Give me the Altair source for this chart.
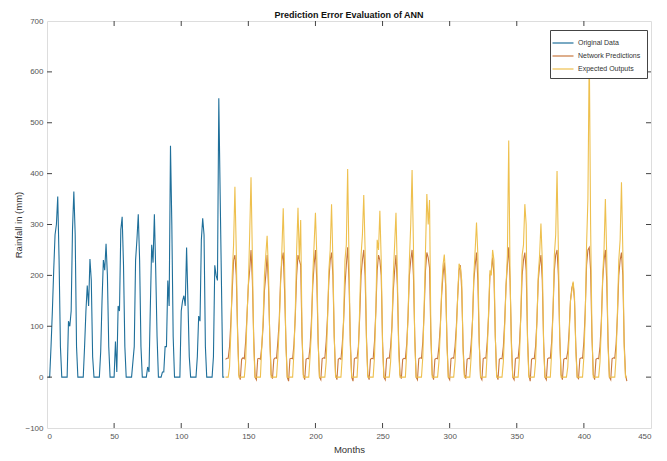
import altair as alt
import pandas as pd

# ---------------- data ----------------
# Original Data: months 1..132 (12 values per year, Jan..Dec)
original_data = [
    0, 0, 60, 130, 210, 280, 300, 355, 230, 60, 0, 0,
    0, 0, 0, 110, 100, 130, 290, 365, 280, 60, 0, 0,
    0, 0, 0, 60, 130, 180, 140, 232, 190, 40, 0, 0,
    0, 0, 0, 50, 150, 230, 210, 262, 200, 60, 0, 0,
    0, 0, 70, 10, 140, 130, 290, 315, 220, 60, 0, 0,
    0, 0, 0, 30, 60, 230, 270, 320, 230, 60, 0, 0,
    0, 0, 20, 10, 140, 260, 225, 320, 210, 80, 0, 0,
    0, 10, 10, 60, 60, 190, 140, 455, 300, 80, 0, 0,
    0, 0, 0, 130, 150, 160, 140, 255, 150, 40, 0, 0,
    0, 0, 0, 40, 120, 110, 270, 312, 280, 60, 0, 0,
    0, 0, 0, 40, 220, 200, 190, 548, 360, 180, 0, 0,
]

# Expected Outputs: months 133..432
expected_outputs = [
    0, 0, 0, 20, 90, 200, 260, 374, 250, 80, 0, 0,
    0, 0, 0, 30, 120, 180, 280, 393, 240, 60, 0, 0,
    0, 0, 0, 60, 110, 200, 240, 278, 210, 70, 0, 0,
    0, 0, 0, 40, 100, 180, 250, 332, 220, 60, 0, 0,
    0, 0, 0, 50, 130, 250, 333, 230, 309, 90, 0, 0,
    0, 0, 0, 40, 90, 200, 260, 323, 240, 70, 0, 0,
    0, 0, 0, 30, 110, 210, 250, 340, 230, 80, 0, 0,
    0, 0, 0, 40, 120, 230, 260, 409, 230, 60, 0, 0,
    0, 0, 0, 50, 140, 240, 280, 358, 250, 70, 0, 0,
    0, 0, 0, 40, 130, 270, 250, 327, 230, 60, 0, 0,
    0, 0, 0, 30, 100, 200, 260, 323, 210, 50, 0, 0,
    0, 0, 0, 50, 120, 230, 300, 407, 260, 70, 0, 0,
    0, 0, 0, 40, 140, 250, 360, 300, 348, 90, 0, 0,
    0, 0, 0, 30, 90, 170, 220, 241, 200, 60, 0, 0,
    0, 0, 0, 30, 90, 160, 223, 215, 190, 50, 0, 0,
    0, 0, 0, 40, 110, 200, 250, 304, 240, 70, 0, 0,
    0, 0, 0, 50, 130, 210, 200, 250, 230, 80, 0, 0,
    0, 0, 0, 30, 100, 180, 240, 465, 200, 60, 0, 0,
    0, 0, 0, 40, 120, 240, 260, 340, 300, 70, 0, 0,
    0, 0, 0, 30, 110, 200, 240, 302, 230, 60, 0, 0,
    0, 0, 0, 50, 130, 240, 280, 405, 250, 80, 0, 0,
    0, 0, 0, 20, 80, 150, 170, 188, 160, 50, 0, 0,
    0, 0, 0, 40, 120, 260, 350, 645, 300, 90, 0, 0,
    0, 0, 0, 30, 100, 200, 250, 350, 240, 60, 0, 0,
    0, 0, 0, 40, 130, 230, 270, 383, 250, 60, 0, 0,
]

# Network Predictions: months 133..432
network_predictions = [
    35, 37, 37, 60, 110, 170, 230, 240, 200, 90, 5, -5,
    35, 38, 36, 70, 120, 180, 210, 250, 190, 80, 0, -5,
    36, 37, 35, 60, 100, 170, 200, 240, 180, 80, 5, -3,
    35, 38, 37, 70, 110, 190, 230, 245, 170, 70, 0, -8,
    36, 37, 36, 65, 120, 200, 240, 230, 220, 80, 5, -5,
    35, 37, 36, 60, 110, 180, 220, 250, 190, 70, 0, -5,
    36, 38, 37, 70, 120, 190, 230, 245, 200, 80, 5, -5,
    35, 37, 35, 65, 110, 180, 220, 255, 190, 70, 0, -8,
    36, 38, 37, 60, 120, 200, 230, 250, 200, 80, 5, -5,
    35, 37, 36, 70, 130, 210, 240, 230, 200, 70, 0, -5,
    36, 38, 37, 60, 100, 170, 210, 240, 180, 70, 5, -3,
    35, 37, 36, 65, 120, 200, 230, 250, 200, 80, 0, -5,
    36, 38, 37, 70, 130, 210, 245, 235, 215, 80, 5, -5,
    35, 37, 36, 60, 100, 160, 200, 225, 180, 70, 0, -5,
    36, 38, 37, 60, 100, 160, 210, 220, 170, 60, 5, -3,
    35, 37, 36, 65, 110, 190, 220, 245, 190, 70, 0, -5,
    36, 38, 37, 70, 120, 200, 210, 235, 200, 80, 5, -5,
    35, 37, 36, 60, 110, 180, 220, 255, 190, 70, 0, -5,
    36, 38, 37, 65, 120, 200, 230, 245, 210, 80, 5, -8,
    35, 37, 36, 60, 110, 190, 220, 240, 190, 70, 0, -5,
    36, 38, 37, 70, 130, 210, 240, 250, 200, 80, 5, -5,
    35, 37, 36, 50, 90, 150, 175, 185, 150, 60, 0, -3,
    36, 38, 37, 70, 130, 220, 250, 255, 210, 80, 5, -5,
    35, 37, 36, 60, 110, 190, 230, 250, 190, 70, 0, -5,
    36, 38, 37, 65, 120, 200, 230, 245, 200, 70, 5, -8,
]

series_names = ["Original Data", "Network Predictions", "Expected Outputs"]
series_colors = ["#1f6f9a", "#c8783f", "#eec04e"]
x_ticks = [0, 50, 100, 150, 200, 250, 300, 350, 400, 450]
y_ticks = [-100, 0, 100, 200, 300, 400, 500, 600, 700]

W, H = 604, 407
FONT = "Liberation Sans"

df_orig = pd.DataFrame({"month": list(range(1, 1 + len(original_data))),
                        "value": original_data, "series": series_names[0]})
start = len(original_data) + 1
df_pred = pd.DataFrame({"month": list(range(start, start + len(network_predictions))),
                        "value": network_predictions, "series": series_names[1]})
df_exp = pd.DataFrame({"month": list(range(start, start + len(expected_outputs))),
                       "value": expected_outputs, "series": series_names[2]})

xscale = alt.Scale(domain=[x_ticks[0], x_ticks[-1]], nice=False, zero=False)
yscale = alt.Scale(domain=[y_ticks[0], y_ticks[-1]], nice=False, zero=False)
cscale = alt.Scale(domain=series_names, range=series_colors)

x_axis = alt.Axis(values=x_ticks, tickSize=0, grid=False, domain=False,
                  labelFontSize=8, labelColor="#555", labelFont=FONT, labelPadding=4,
                  title="Months", titleFontSize=9.5, titleFont=FONT,
                  titleFontWeight="normal", titleColor="#333", titlePadding=4)
y_axis = alt.Axis(values=y_ticks, tickSize=0, grid=False, domain=False,
                  labelFontSize=8, labelColor="#555", labelFont=FONT, labelPadding=4,
                  title="Rainfall in (mm)", titleFontSize=9.5, titleFont=FONT,
                  titleFontWeight="normal", titleColor="#333", titlePadding=1)

legend = alt.Legend(
    title=None, orient="none", legendX=503, legendY=9,
    direction="vertical",
    symbolType="M-1.75,0L1.75,0", symbolSize=144, symbolStrokeWidth=1.2,
    labelFontSize=7, labelFont=FONT, labelColor="#333", labelOffset=8,
    rowPadding=3, padding=6,
    strokeColor="#444", fillColor="white",
)


def line_layer(df):
    return alt.Chart(df).mark_line(strokeWidth=1.1).encode(
        x=alt.X("month:Q", scale=xscale, axis=x_axis),
        y=alt.Y("value:Q", scale=yscale, axis=y_axis),
        color=alt.Color("series:N", scale=cscale, sort=series_names, legend=legend),
    )


# inward tick marks on all four sides (positions from the tick lists via scales)
xt = pd.DataFrame({"t": x_ticks[1:-1]})
yt = pd.DataFrame({"t": y_ticks[1:-1]})
tick_style = dict(color="#444", strokeWidth=1)
ticks_bottom = alt.Chart(xt).mark_rule(**tick_style).encode(
    x=alt.X("t:Q", scale=xscale, axis=x_axis), y=alt.value(H), y2=alt.value(H - 5))
ticks_top = alt.Chart(xt).mark_rule(**tick_style).encode(
    x=alt.X("t:Q", scale=xscale, axis=x_axis), y=alt.value(0), y2=alt.value(5))
ticks_left = alt.Chart(yt).mark_rule(**tick_style).encode(
    y=alt.Y("t:Q", scale=yscale, axis=y_axis), x=alt.value(0), x2=alt.value(5))
ticks_right = alt.Chart(yt).mark_rule(**tick_style).encode(
    y=alt.Y("t:Q", scale=yscale, axis=y_axis), x=alt.value(W - 5), x2=alt.value(W))

chart = alt.layer(
    line_layer(df_orig),
    line_layer(df_pred),
    line_layer(df_exp),
    ticks_bottom, ticks_top, ticks_left, ticks_right,
).properties(
    width=W, height=H,
    title=alt.TitleParams("Prediction Error Evaluation of ANN", fontSize=9,
                          font=FONT, fontWeight="bold", color="#111", offset=-3,
                          anchor="middle"),
    autosize=alt.AutoSizeParams(type="none"),
    padding={"left": 39, "top": 13, "right": 8, "bottom": 25},
).configure_view(
    stroke="#444", strokeWidth=1
).configure(background="white")

chart.save("out.html", embed_options={"renderer": "svg", "actions": False})
